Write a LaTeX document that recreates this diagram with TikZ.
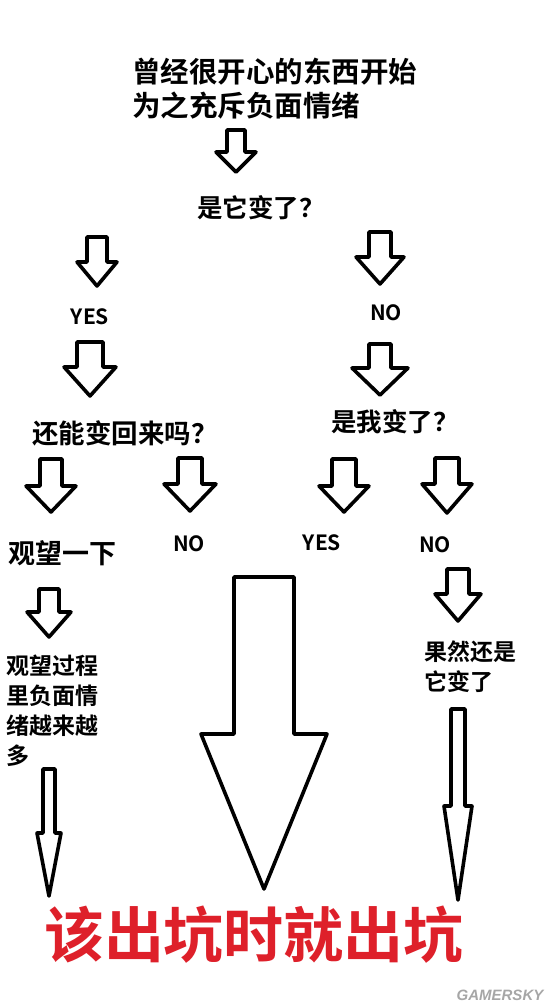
\documentclass[tikz,border=0pt]{standalone}
\usepackage{fontspec}
\newfontfamily\cjk{Noto Sans CJK SC}
\newfontfamily\cjkb{Noto Sans CJK SC Bold}
\newfontfamily\wmfont{Liberation Sans}
\definecolor{quitred}{RGB}{222,32,42}

% hollow block arrow: {x}{top}{tip}{half shaft}{half head}{head line}
\newcommand{\fatarrow}[6]{%
  \draw[blk] ({#1-#4},#2) -- ({#1+#4},#2) -- ({#1+#4},#6) -- ({#1+#5},#6)
    -- (#1,#3) -- ({#1-#5},#6) -- ({#1-#4},#6) -- cycle;}

\begin{document}
\begin{tikzpicture}[x=1pt, y=-1pt,
    blk/.style={line width=3.6pt, line join=round},
    lbl/.style={inner sep=0pt, font=\cjkb},
    yn/.style={lbl, font=\cjkb\fontsize{21}{24}\selectfont}]
    \useasboundingbox (0,0) rectangle (550,1007);
    \fill[white] (0,0) rectangle (550,1007);

    % Question
    \node[lbl, font=\cjkb\fontsize{28.5}{34}\selectfont, align=left, anchor=west] (start) at (132,89) {曾经很开心的东西开始\\为之充斥负面情绪};
    \fatarrow{236}{130}{172}{9}{20}{152}
    \node[lbl, font=\cjkb\fontsize{25.5}{30}\selectfont] (itchanged) at (261,208) {是它变了？};

    % First branch
    \fatarrow{97}{237}{286}{10}{20}{262}
    \fatarrow{380}{232}{284}{11}{24}{257}
    \node[yn] (yes1) at (90,317) {YES};
    \node[yn] (no1) at (386,313) {NO};
    \fatarrow{90}{342}{396}{13}{26}{367}
    \fatarrow{380}{344}{395}{11}{28}{368}
    \node[lbl, font=\cjkb\fontsize{26.5}{30}\selectfont] (canback) at (125,433) {还能变回来吗？};
    \node[lbl, font=\cjkb\fontsize{25.5}{30}\selectfont] (mechanged) at (395,422) {是我变了？};

    % Second branch
    \fatarrow{51}{459}{512}{11}{25}{486}
    \fatarrow{190}{458}{511}{12}{26}{484}
    \fatarrow{344}{459}{512}{12}{25}{486}
    \fatarrow{447}{458}{513}{12}{25}{484}
    \node[lbl, font=\cjkb\fontsize{27}{30}\selectfont] (wait) at (63,553) {观望一下};
    \node[yn] (no2) at (189,544) {NO};
    \node[yn] (yes2) at (322,543) {YES};
    \node[yn] (no3) at (435,545) {NO};

    % Outcomes
    \fatarrow{49}{589}{637}{10}{22}{612}
    \fatarrow{458}{569}{621}{11}{23}{594}
    \node[lbl, font=\cjkb\fontsize{23}{30}\selectfont, align=left, anchor=west] (waitlong) at (6,711) {观望过程\\里负面情\\绪越来越\\多};
    \node[lbl, font=\cjkb\fontsize{23}{30}\selectfont, align=left, anchor=west] (stillit) at (424,667) {果然还是\\它变了};

    % To the end
    \fatarrow{49}{769}{896}{6}{12}{833}
    \fatarrow{264}{577}{889}{30}{63}{734}
    \fatarrow{458}{709}{900}{7}{14}{806}
    \node[lbl, font=\cjkb\fontsize{60}{64}\selectfont, text=quitred] (quit) at (254,935) {该出坑时就出坑};
    \node[inner sep=0pt, font=\wmfont\bfseries\itshape\fontsize{15}{16}\selectfont, text=black!35] (mark) at (500,995) {GAMERSKY};
\end{tikzpicture}
\end{document}
